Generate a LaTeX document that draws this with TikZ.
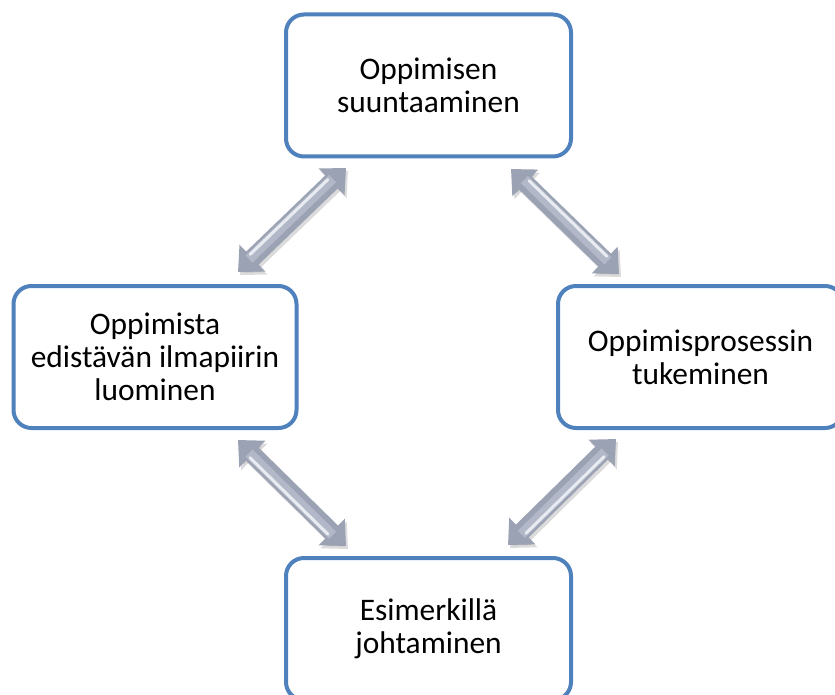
\documentclass[tikz,border=0pt]{standalone}
\usepackage{fontspec}
\setmainfont{Carlito}
\usetikzlibrary{arrows.meta}
\definecolor{boxblue}{HTML}{4F81BD}
\definecolor{arrdark}{HTML}{9BA2B3}
\definecolor{arrmid}{HTML}{B2B8C7}
\definecolor{arrlight}{HTML}{E8EBF1}
\tikzset{
  stage/.style={draw=boxblue, line width=4pt, rounded corners=18pt, fill=white,
    minimum width=285pt, minimum height=142pt, align=center, inner sep=0pt,
    font=\fontsize{31.4}{33}\selectfont},
  arrowtips/.style={{Triangle[length=20pt,width=36pt]}-{Triangle[length=20pt,width=36pt]}},
  arrshadow/.style={arrowtips, line width=18pt, draw=black, fill=black, opacity=0.14},
  arrbody/.style={arrowtips, line width=18pt, draw=arrdark, fill=arrdark},
  arrcore/.style={line width=10pt, draw=arrmid, shorten <=17pt, shorten >=17pt},
  arrshine/.style={line width=3pt, draw=arrlight, line cap=round, shorten <=21pt, shorten >=21pt},
}
% shaded two-way arrow: from, to, offset of the lit side (x, y)
\newcommand{\linkarrow}[4]{%
  \draw[arrshadow, transform canvas={xshift=2pt, yshift=-3pt}] (#1) -- (#2);
  \draw[arrbody] (#1) -- (#2);
  \draw[arrcore, transform canvas={xshift=0.4*#3, yshift=0.4*#4}] (#1) -- (#2);
  \draw[arrshine, transform canvas={xshift=#3, yshift=#4}] (#1) -- (#2);
}
\begin{document}
\begin{tikzpicture}[x=1pt, y=-1pt]
  \clip (0,0) rectangle (835,695);
  \fill[white] (0,0) rectangle (835,695);

  % arrow end points
  \coordinate (tlA) at (238,272);  \coordinate (tlB) at (346,168);
  \coordinate (trA) at (511,169);  \coordinate (trB) at (619,274);
  \coordinate (blA) at (238,440);  \coordinate (blB) at (346,546);
  \coordinate (brA) at (616,439);  \coordinate (brB) at (508,545);

  \linkarrow{tlA}{tlB}{-3pt}{3pt}
  \linkarrow{trA}{trB}{3pt}{3pt}
  \linkarrow{blA}{blB}{-3pt}{-3pt}
  \linkarrow{brA}{brB}{3pt}{-3pt}

  % the four stages
  \node[stage] (top)    at (428.5,85.5) {Oppimisen\\suuntaaminen};
  \node[stage, minimum width=283pt] (left) at (155,357) {Oppimista\\edistävän ilmapiirin\\luominen};
  \node[stage] (right)  at (700.5,357) {Oppimisprosessin\\tukeminen};
  \node[stage] (bottom) at (428.5,629) {Esimerkillä\\johtaminen};
\end{tikzpicture}
\end{document}
